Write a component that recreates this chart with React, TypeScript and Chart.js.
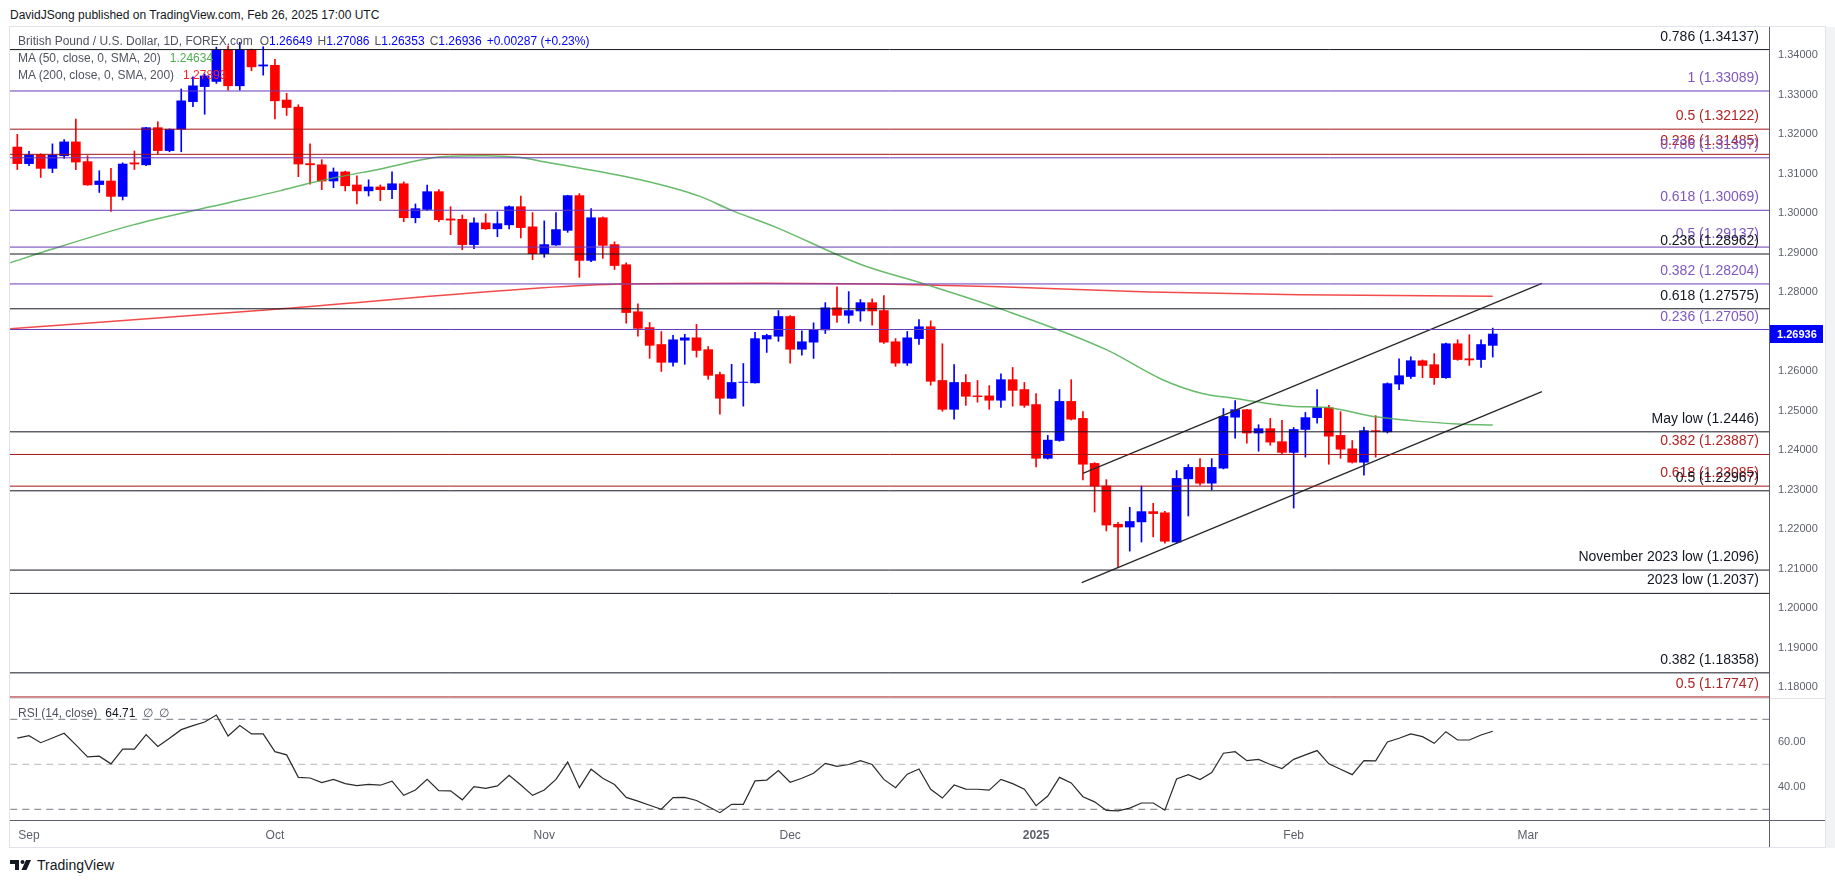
import React, { useEffect, useRef } from 'react';
import { Chart, registerables } from 'chart.js';

Chart.register(...registerables);

const FONT = '"Liberation Sans", Arial, sans-serif';

// ---- Daily GBP/USD candles, index 0 = Aug 30 2024 ... index 126 = Feb 26 2025 ----
const opens = [
  1.3167, 1.3125, 1.3148, 1.3113, 1.3145, 1.318, 1.313, 1.3072, 1.3081, 1.3042,
  1.3127, 1.3122, 1.3216, 1.3158, 1.3212, 1.3282, 1.332, 1.3333, 1.3413, 1.3322,
  1.3414, 1.3372, 1.3374, 1.3286, 1.3268, 1.3125, 1.3122, 1.3081, 1.3104, 1.3071,
  1.3056, 1.3066, 1.3059, 1.3074, 1.2988, 1.3009, 1.3054, 1.2985, 1.2984, 1.292,
  1.2975, 1.296, 1.297, 1.3016, 1.2965, 1.2897, 1.2919, 1.2956, 1.3044, 1.288,
  1.2988, 1.292, 1.2869, 1.275, 1.271, 1.2667, 1.2622, 1.2678, 1.2684, 1.2654,
  1.2591, 1.2531, 1.2571, 1.257, 1.2681, 1.2688, 1.2738, 1.2655, 1.2673, 1.2704,
  1.276, 1.2741, 1.2752, 1.2773, 1.2753, 1.2674, 1.262, 1.2682, 1.2712, 1.2576,
  1.2503, 1.2571, 1.2537, 1.2537, 1.2526, 1.2578, 1.2553, 1.2515, 1.2379, 1.2424,
  1.2523, 1.248, 1.2366, 1.2309, 1.2212, 1.2205, 1.2218, 1.2244, 1.2241, 1.2167,
  1.2327, 1.2356, 1.2316, 1.2354, 1.2483, 1.2502, 1.2443, 1.2454, 1.2421, 1.2394,
  1.2452, 1.2482, 1.2507, 1.2437, 1.2403, 1.2369, 1.2449, 1.2446, 1.2567, 1.2586,
  1.2626, 1.2616, 1.2583, 1.2669, 1.2631, 1.2629, 1.26649,
];
const highs = [
  1.3199, 1.3156, 1.315, 1.3175, 1.3186, 1.3238, 1.3145, 1.3107, 1.3113, 1.3127,
  1.3157, 1.3217, 1.3231, 1.3213, 1.3314, 1.3345, 1.3352, 1.342, 1.3423, 1.3432,
  1.3415, 1.3421, 1.3389, 1.3303, 1.3274, 1.3175, 1.3135, 1.3114, 1.3106, 1.3094,
  1.3084, 1.3071, 1.3104, 1.3079, 1.3023, 1.3071, 1.3059, 1.3016, 1.2995, 1.2988,
  1.2998, 1.3003, 1.3018, 1.3043, 1.3001, 1.298, 1.3001, 1.3045, 1.3049, 1.3011,
  1.299, 1.2927, 1.2874, 1.277, 1.2723, 1.27, 1.269, 1.2693, 1.2718, 1.2662,
  1.2597, 1.2617, 1.2619, 1.2698, 1.2693, 1.2753, 1.274, 1.2702, 1.2722, 1.2773,
  1.2813, 1.2801, 1.2781, 1.2783, 1.2791, 1.2682, 1.27, 1.273, 1.2727, 1.2669,
  1.2616, 1.2591, 1.2576, 1.2563, 1.2593, 1.2609, 1.2571, 1.2543, 1.2437, 1.2553,
  1.2578, 1.2497, 1.2368, 1.2325, 1.2217, 1.2255, 1.2309, 1.2265, 1.2245, 1.2348,
  1.2363, 1.2378, 1.2378, 1.2505, 1.2525, 1.2503, 1.2464, 1.248, 1.2475, 1.2457,
  1.2495, 1.2553, 1.2513, 1.2497, 1.2424, 1.2458, 1.2487, 1.257, 1.2631, 1.2636,
  1.2628, 1.2644, 1.2671, 1.2679, 1.2692, 1.2679, 1.27086,
];
const lows = [
  1.311, 1.312, 1.309, 1.3102, 1.3138, 1.311, 1.307, 1.3052, 1.3004, 1.3033,
  1.311, 1.312, 1.315, 1.3155, 1.3155, 1.3269, 1.325, 1.3328, 1.3311, 1.3311,
  1.336, 1.3349, 1.3238, 1.3247, 1.3092, 1.3073, 1.3059, 1.3064, 1.3056, 1.3023,
  1.3043, 1.3031, 1.3036, 1.2978, 1.2975, 1.3006, 1.2978, 1.2945, 1.2907, 1.291,
  1.2958, 1.294, 1.296, 1.2937, 1.2882, 1.2888, 1.2918, 1.2951, 1.2837, 1.2877,
  1.2885, 1.2857, 1.2721, 1.2688, 1.2632, 1.2599, 1.2612, 1.2617, 1.2635, 1.2579,
  1.2491, 1.253, 1.2511, 1.2569, 1.2647, 1.2675, 1.262, 1.264, 1.2632, 1.2695,
  1.2723, 1.2721, 1.2726, 1.2716, 1.267, 1.2612, 1.2614, 1.2667, 1.2564, 1.2498,
  1.2478, 1.2513, 1.2521, 1.2503, 1.2508, 1.2511, 1.2508, 1.2357, 1.2377, 1.2422,
  1.2476, 1.2324, 1.2243, 1.2195, 1.2102, 1.2144, 1.2167, 1.218, 1.2164, 1.2164,
  1.2233, 1.2311, 1.2299, 1.2352, 1.243, 1.2417, 1.2397, 1.2412, 1.2389, 1.2253,
  1.2382, 1.2468, 1.2364, 1.2379, 1.2367, 1.2336, 1.2382, 1.2443, 1.2553, 1.2581,
  1.2583, 1.2566, 1.2581, 1.2627, 1.2614, 1.2609, 1.26353,
];
const closes = [
  1.3125, 1.3147, 1.3113, 1.3147, 1.318, 1.3129, 1.3071, 1.3081, 1.3042, 1.3124,
  1.3124, 1.3216, 1.3158, 1.3212, 1.3284, 1.3322, 1.3347, 1.3413, 1.3322, 1.3413,
  1.337, 1.3375, 1.3284, 1.3267, 1.3124, 1.3122, 1.3081, 1.3104, 1.3069, 1.3056,
  1.3066, 1.3059, 1.3074, 1.2988, 1.3011, 1.3054, 1.2983, 1.2982, 1.292, 1.2975,
  1.296, 1.2973, 1.3016, 1.2963, 1.2897, 1.292, 1.2958, 1.3044, 1.288, 1.2988,
  1.2918, 1.2867, 1.2748, 1.2708, 1.2665, 1.2622, 1.2679, 1.2684, 1.2652, 1.2589,
  1.2531, 1.2571, 1.2572, 1.2682, 1.269, 1.2738, 1.2655, 1.2674, 1.2705, 1.276,
  1.2741, 1.2753, 1.2773, 1.2752, 1.2673, 1.262, 1.2684, 1.2712, 1.2574, 1.2503,
  1.2571, 1.2536, 1.2535, 1.2526, 1.2578, 1.2551, 1.2513, 1.2379, 1.2425, 1.2523,
  1.2478, 1.2364, 1.2309, 1.221, 1.2205, 1.2219, 1.2244, 1.2239, 1.2169, 1.2328,
  1.2356, 1.2316, 1.2356, 1.2485, 1.2502, 1.2443, 1.2454, 1.242, 1.2394, 1.2452,
  1.2482, 1.2507, 1.2435, 1.2402, 1.2369, 1.2449, 1.2447, 1.2568, 1.2588, 1.2626,
  1.2614, 1.2583, 1.2669, 1.2629, 1.2628, 1.2667, 1.26936,
];

// RSI(14) per candle
const rsiValues = [
  61.6, 62.7, 59.6, 61.7, 63.8, 58.6, 53.3, 53.6, 50.2, 56.7,
  56.7, 63.2, 57.9, 61.6, 65.4, 67.2, 68.8, 71.9, 62.6, 67.2,
  63.5, 63.5, 55.6, 54.2, 44.2, 43.9, 41.9, 43.3, 41.4, 40.5,
  41.1, 40.7, 42.5, 36.2, 38.6, 43.3, 38.3, 38.2, 34.2, 40.1,
  39.3, 40.4, 45.1, 40.8, 36.2, 38.6, 43.3, 51.0, 39.6, 47.8,
  43.8, 41.0, 35.3, 33.6, 31.8, 30.0, 35.2, 35.3, 33.9, 31.2,
  28.5, 32.2, 32.2, 42.6, 43.0, 47.2, 42.0, 43.8, 46.0, 50.4,
  49.1, 49.9, 51.6, 49.9, 43.3, 39.6, 45.6, 47.9, 38.9, 35.0,
  40.8, 39.0, 38.9, 38.5, 43.3, 41.4, 38.9, 31.6, 35.9, 44.2,
  41.7, 35.6, 33.3, 29.5, 29.3, 30.5, 32.8, 32.8, 29.6, 43.5,
  45.4, 43.2, 46.3, 54.9, 55.6, 51.6, 52.2, 49.9, 48.1, 52.2,
  54.2, 56.1, 50.2, 47.8, 45.4, 51.6, 51.5, 59.9, 61.6, 63.5,
  62.3, 59.3, 64.5, 60.8, 60.8, 63.0, 64.71,
];

// Moving averages read at sample points (candle index, price)
const ma50Idx = [-0.6, 2.8, 9.9, 18.2, 22.4, 25.2, 30.9, 36.5, 39.9, 42.8, 45.1, 53.2, 58.3, 60.9, 64.7, 72.1, 77.5, 83.9, 93.0, 97.8, 101.2, 103.6, 108.8, 111.7, 116.0, 118.8, 123.0, 126.0];
const ma50Val = [1.2874, 1.2907, 1.297, 1.3027, 1.3056, 1.3077, 1.3111, 1.3143, 1.3145, 1.3141, 1.3129, 1.3084, 1.3042, 1.3008, 1.2965, 1.2869, 1.282, 1.2758, 1.2654, 1.2578, 1.2543, 1.2532, 1.2511, 1.2508, 1.2484, 1.2475, 1.2466, 1.24634];
const ma200Idx = [-0.6, 21.5, 44.6, 51.6, 63.8, 73.8, 83.9, 96.7, 109.5, 126.0];
const ma200Val = [1.2707, 1.2755, 1.281, 1.282, 1.2822, 1.282, 1.2813, 1.28, 1.2793, 1.27893];

// Ascending channel
const channelUpperIdx = [91.0, 130.2];
const channelUpperVal = [1.2341, 1.2822];
const channelLowerIdx = [90.9, 130.2];
const channelLowerVal = [1.2064, 1.2548];

// Fibonacci / key levels
const fibLevels = [1.34137, 1.33089, 1.32122, 1.31485, 1.31397, 1.30069, 1.29137, 1.28962, 1.28204, 1.27575, 1.2705, 1.2446, 1.23887, 1.23085, 1.22967, 1.2096, 1.2037, 1.18358, 1.17747];
const fibLabels = ['0.786 (1.34137)', '1 (1.33089)', '0.5 (1.32122)', '0.236 (1.31485)', '0.786 (1.31397)', '0.618 (1.30069)', '0.5 (1.29137)', '0.236 (1.28962)', '0.382 (1.28204)', '0.618 (1.27575)', '0.236 (1.27050)', 'May low (1.2446)', '0.382 (1.23887)', '0.618 (1.23085)', '0.5 (1.22967)', 'November 2023 low (1.2096)', '2023 low (1.2037)', '0.382 (1.18358)', '0.5 (1.17747)'];
const fibKinds = ['k', 'p', 'r', 'r', 'p', 'p', 'p', 'k', 'p', 'k', 'p', 'k', 'r', 'r', 'k', 'k', 'k', 'k', 'r'];

// Axes
const priceTicks = [1.18, 1.19, 1.2, 1.21, 1.22, 1.23, 1.24, 1.25, 1.26, 1.27, 1.28, 1.29, 1.3, 1.31, 1.32, 1.33, 1.34];
const monthTickIdx = [1, 22, 45, 66, 87, 109, 129];
const monthTickLabels = ['Sep', 'Oct', 'Nov', 'Dec', '2025', 'Feb', 'Mar'];
const rsiTicks = [40, 60];
const rsiLevels = [70, 50, 30];

// ---- layout / style constants ----
const X_MIN = -0.6234;
const X_MAX = 149.59;
const MAIN_Y_MIN = 1.176962;
const MAIN_Y_MAX = 1.347089;
const RSI_MIN = 25.24;
const RSI_MAX = 78.58;
const BLUE = '#0000ff';
const RED = '#ff0000';
const LINE_COLORS: any = { k: '#131722', p: '#673ab7', r: '#a31515' };
const TEXT_COLORS: any = { k: '#131722', p: '#7e57c2', r: '#b22222' };
const AXIS_TEXT = '#5d606b';

export default function App() {
  const mainRef = useRef<HTMLCanvasElement | null>(null);
  const rsiRef = useRef<HTMLCanvasElement | null>(null);

  useEffect(() => {
    const candleColors = closes.map((c, i) => (c >= opens[i] ? BLUE : RED));
    const wickData = highs.map((h, i) => ({ x: i, y: [lows[i], h] }));
    const bodyData = opens.map((o, i) => ({ x: i, y: [Math.min(o, closes[i]), Math.max(o, closes[i])] }));

    const fibDatasets = fibLevels.map((v, i) => ({
      type: 'line',
      data: [{ x: X_MIN - 1, y: v }, { x: X_MAX + 1, y: v }],
      borderColor: LINE_COLORS[fibKinds[i]],
      borderWidth: 1,
      pointRadius: 0,
      order: 0,
    }));

    const fibLabelPlugin = {
      id: 'fibLabels',
      afterDatasetsDraw(chart: any) {
        const { ctx, chartArea, scales } = chart;
        ctx.save();
        ctx.font = `14px ${FONT}`;
        ctx.textAlign = 'right';
        ctx.textBaseline = 'alphabetic';
        fibLevels.forEach((v, i) => {
          const y = scales.y.getPixelForValue(v);
          ctx.fillStyle = TEXT_COLORS[fibKinds[i]];
          ctx.fillText(fibLabels[i], chartArea.right - 10, y - 9);
        });
        ctx.restore();
      },
      afterDraw(chart: any) {
        const { ctx, chartArea, scales } = chart;
        const last = closes[closes.length - 1];
        const y = scales.y.getPixelForValue(last);
        ctx.save();
        ctx.fillStyle = BLUE;
        ctx.fillRect(chartArea.right + 1, Math.round(y) - 9, 53, 18);
        ctx.fillStyle = '#ffffff';
        ctx.font = `bold 11px ${FONT}`;
        ctx.textAlign = 'left';
        ctx.textBaseline = 'middle';
        ctx.fillText(last.toFixed(5), chartArea.right + 8, Math.round(y) + 0.5);
        ctx.restore();
      },
    };

    const main = new Chart(mainRef.current as HTMLCanvasElement, {
      type: 'bar',
      data: {
        datasets: [
          ...fibDatasets,
          {
            type: 'line',
            data: channelUpperIdx.map((x, i) => ({ x, y: channelUpperVal[i] })),
            borderColor: '#2a2a2a',
            borderWidth: 1.4,
            pointRadius: 0,
            order: 1,
          },
          {
            type: 'line',
            data: channelLowerIdx.map((x, i) => ({ x, y: channelLowerVal[i] })),
            borderColor: '#2a2a2a',
            borderWidth: 1.4,
            pointRadius: 0,
            order: 1,
          },
          {
            type: 'line',
            data: ma50Idx.map((x, i) => ({ x, y: ma50Val[i] })),
            borderColor: 'rgba(76,175,80,0.85)',
            borderWidth: 1.5,
            pointRadius: 0,
            cubicInterpolationMode: 'monotone',
            order: 2,
          },
          {
            type: 'line',
            data: ma200Idx.map((x, i) => ({ x, y: ma200Val[i] })),
            borderColor: 'rgba(244,54,54,0.9)',
            borderWidth: 1.5,
            pointRadius: 0,
            cubicInterpolationMode: 'monotone',
            order: 2,
          },
          {
            type: 'bar',
            data: bodyData,
            backgroundColor: candleColors,
            barThickness: 9,
            grouped: false,
            order: 3,
          },
          {
            type: 'bar',
            data: wickData,
            backgroundColor: candleColors,
            barThickness: 1,
            grouped: false,
            order: 4,
          },
        ] as any,
      },
      options: {
        responsive: false,
        maintainAspectRatio: false,
        animation: false,
        devicePixelRatio: 1,
        events: [],
        layout: { padding: 0 },
        plugins: { legend: { display: false }, tooltip: { enabled: false }, title: { display: false } },
        scales: {
          x: { type: 'linear', min: X_MIN, max: X_MAX, display: false, offset: false, grid: { display: false } },
          y: {
            type: 'linear',
            position: 'right',
            min: MAIN_Y_MIN,
            max: MAIN_Y_MAX,
            grid: { display: false, drawTicks: false },
            border: { display: false },
            ticks: {
              padding: 9,
              color: AXIS_TEXT,
              font: { size: 11, family: FONT },
              callback: (v: any) => Number(v).toFixed(5),
            },
            afterBuildTicks: (s: any) => {
              s.ticks = priceTicks.map((v) => ({ value: v }));
            },
            afterFit: (s: any) => {
              s.width = 56;
              s.paddingTop = 0;
              s.paddingBottom = 0;
            },
          },
        },
      } as any,
      plugins: [fibLabelPlugin],
    });

    const rsi = new Chart(rsiRef.current as HTMLCanvasElement, {
      type: 'line',
      data: {
        datasets: [
          ...rsiLevels.map((v) => ({
            data: [{ x: X_MIN - 1, y: v }, { x: X_MAX + 1, y: v }],
            borderColor: v === 50 ? 'rgba(120,123,134,0.55)' : '#787b86',
            borderWidth: 1,
            borderDash: [7, 5],
            pointRadius: 0,
            order: 1,
          })),
          {
            data: rsiValues.map((v, i) => ({ x: i, y: v })),
            borderColor: '#2b2b2b',
            borderWidth: 1.2,
            pointRadius: 0,
            tension: 0,
            order: 0,
          },
        ] as any,
      },
      options: {
        responsive: false,
        maintainAspectRatio: false,
        animation: false,
        devicePixelRatio: 1,
        events: [],
        layout: { padding: 0 },
        plugins: { legend: { display: false }, tooltip: { enabled: false }, title: { display: false } },
        scales: {
          x: {
            type: 'linear',
            min: X_MIN,
            max: X_MAX,
            position: 'bottom',
            offset: false,
            grid: { display: false, drawTicks: false },
            border: { display: false },
            ticks: {
              autoSkip: false,
              maxRotation: 0,
              padding: 8,
              color: AXIS_TEXT,
              font: (c: any) => {
                const idx = c.tick ? monthTickIdx.indexOf(c.tick.value) : -1;
                const lbl = idx >= 0 ? monthTickLabels[idx] : '';
                return { size: 12, family: FONT, weight: lbl === '2025' ? 'bold' : 'normal' };
              },
              callback: (v: any) => {
                const idx = monthTickIdx.indexOf(Number(v));
                return idx >= 0 ? monthTickLabels[idx] : '';
              },
            },
            afterBuildTicks: (s: any) => {
              s.ticks = monthTickIdx.map((v) => ({ value: v }));
            },
            afterFit: (s: any) => {
              s.height = 27;
              s.paddingLeft = 0;
              s.paddingRight = 0;
            },
          },
          y: {
            type: 'linear',
            position: 'right',
            min: RSI_MIN,
            max: RSI_MAX,
            grid: { display: false, drawTicks: false },
            border: { display: false },
            ticks: {
              padding: 9,
              color: AXIS_TEXT,
              font: { size: 11, family: FONT },
              callback: (v: any) => Number(v).toFixed(2),
            },
            afterBuildTicks: (s: any) => {
              s.ticks = rsiTicks.map((v) => ({ value: v }));
            },
            afterFit: (s: any) => {
              s.width = 56;
              s.paddingTop = 0;
              s.paddingBottom = 0;
            },
          },
        },
      } as any,
    });

    return () => {
      main.destroy();
      rsi.destroy();
    };
  }, []);

  const abs = (l: number, t: number, w: number, h: number, extra: any = {}) => ({
    position: 'absolute' as const,
    left: l,
    top: t,
    width: w,
    height: h,
    ...extra,
  });

  const last = closes[closes.length - 1];
  const prevClose = closes[closes.length - 2];
  const chg = last - opens[opens.length - 1];

  return (
    <div style={{ position: 'absolute', left: 0, top: 0, width: 1835, height: 883, background: '#ffffff', fontFamily: FONT, overflow: 'hidden' }}>
      <div style={{ position: 'absolute', left: 10, top: 7, fontSize: 12, color: '#131722', whiteSpace: 'nowrap', lineHeight: '16px' }}>
        DavidJSong published on TradingView.com, Feb 26, 2025 17:00 UTC
      </div>

      <div style={abs(1826, 27, 9, 821, { background: '#f2f3f5' })} />
      <div style={abs(9, 26, 1817, 822, { border: '1px solid #e0e3eb', boxSizing: 'border-box' })} />

      <div style={abs(10, 27, 1815, 672)}>
        <canvas ref={mainRef} width={1815} height={672} style={{ width: 1815, height: 672, display: 'block' }} />
      </div>
      <div style={abs(10, 700, 1815, 147)}>
        <canvas ref={rsiRef} width={1815} height={147} style={{ width: 1815, height: 147, display: 'block' }} />
      </div>

      {/* pane separator, price scale border, time axis line */}
      <div style={abs(10, 698, 1815, 1, { background: '#e0e3eb' })} />
      <div style={abs(1769, 27, 1, 820, { background: '#5d606b' })} />
      <div style={abs(10, 820, 1815, 1, { background: '#5d606b' })} />

      {/* legend */}
      <div style={{ position: 'absolute', left: 18, top: 33, fontSize: 12, lineHeight: '17px', color: '#50535e', whiteSpace: 'nowrap' }}>
        <div>
          British Pound / U.S. Dollar, 1D, FOREX.com
          <span style={{ marginLeft: 7 }}>O</span><span style={{ color: BLUE }}>{opens[opens.length - 1].toFixed(5)}</span>
          <span style={{ marginLeft: 5 }}>H</span><span style={{ color: BLUE }}>{highs[highs.length - 1].toFixed(5)}</span>
          <span style={{ marginLeft: 5 }}>L</span><span style={{ color: BLUE }}>{lows[lows.length - 1].toFixed(5)}</span>
          <span style={{ marginLeft: 5 }}>C</span><span style={{ color: BLUE }}>{last.toFixed(5)}</span>
          <span style={{ marginLeft: 5, color: BLUE }}>+0.00287 (+0.23%)</span>
        </div>
        <div>
          MA (50, close, 0, SMA, 20)<span style={{ marginLeft: 9, color: '#4caf50' }}>{ma50Val[ma50Val.length - 1].toFixed(5)}</span>
        </div>
        <div>
          MA (200, close, 0, SMA, 200)<span style={{ marginLeft: 9, color: '#ff1f1f' }}>{ma200Val[ma200Val.length - 1].toFixed(5)}</span>
        </div>
      </div>

      {/* RSI legend */}
      <div style={{ position: 'absolute', left: 18, top: 705, fontSize: 12, lineHeight: '16px', color: '#50535e', whiteSpace: 'nowrap' }}>
        RSI (14, close)
        <span style={{ marginLeft: 8, color: '#131722' }}>{rsiValues[rsiValues.length - 1].toFixed(2)}</span>
        <span style={{ marginLeft: 8 }}>∅</span>
        <span style={{ marginLeft: 6 }}>∅</span>
      </div>

      {/* footer logo */}
      <div style={{ position: 'absolute', left: 10, top: 857, display: 'flex', alignItems: 'center', whiteSpace: 'nowrap' }}>
        <svg width="22" height="12" viewBox="0 0 22 12">
          <path d="M0 1h9v10h-4v-6h-5z" fill="#131722" />
          <circle cx="12.5" cy="3" r="2" fill="#131722" />
          <path d="M16 1h5l-4.5 10h-5z" fill="#131722" />
        </svg>
        <span style={{ marginLeft: 5, fontSize: 14, color: '#131722' }}>TradingView</span>
      </div>
      <span style={{ display: 'none' }}>{prevClose}{chg}</span>
    </div>
  );
}
